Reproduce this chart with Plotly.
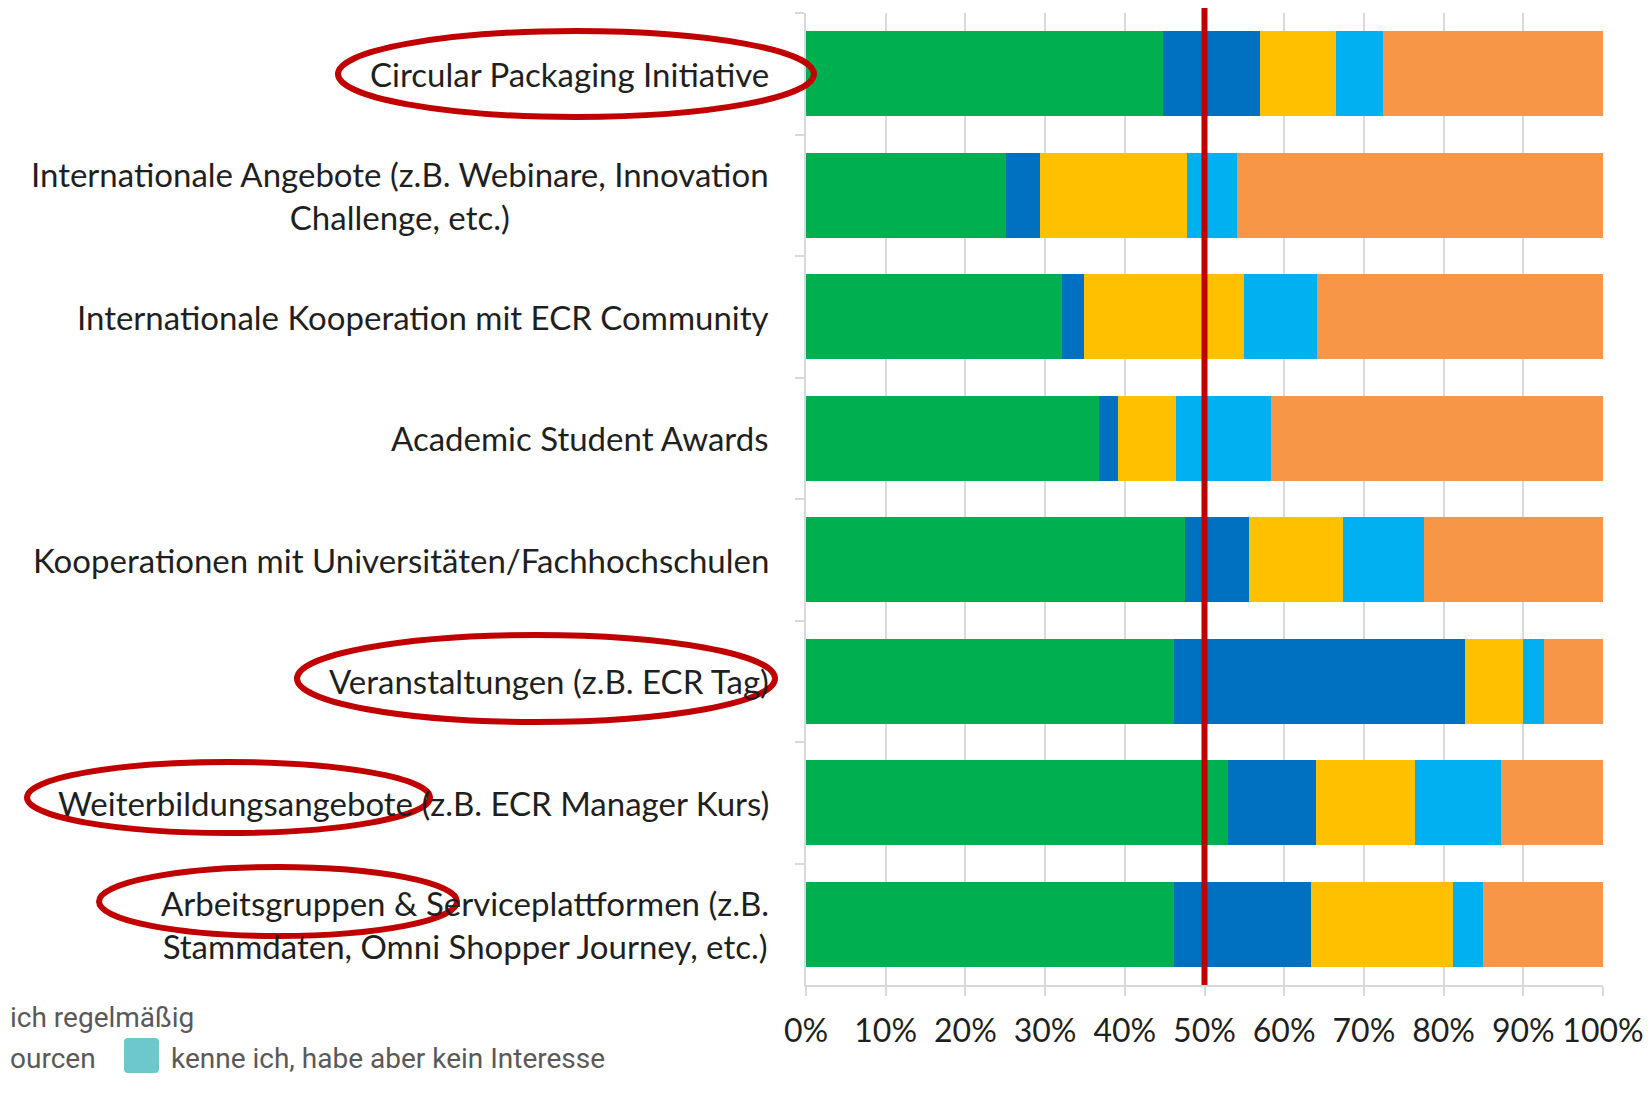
import plotly.graph_objects as go

# categories top to bottom
categories = [
    "Circular Packaging Initiative",
    "Internationale Angebote (z.B. Webinare, Innovation<br>Challenge, etc.)",
    "Internationale Kooperation mit ECR Community",
    "Academic Student Awards",
    "Kooperationen mit Universitäten/Fachhochschulen",
    "Veranstaltungen (z.B. ECR Tag)",
    "Weiterbildungsangebote (z.B. ECR Manager Kurs)",
    "Arbeitsgruppen & Serviceplattformen (z.B.<br>Stammdaten, Omni Shopper Journey, etc.)",
]

# shares per answer group (fraction of respondents)
green = [0.448, 0.251, 0.321, 0.368, 0.476, 0.462, 0.530, 0.462]
darkblue = [0.122, 0.042, 0.028, 0.024, 0.080, 0.365, 0.110, 0.171]
yellow = [0.095, 0.185, 0.201, 0.072, 0.118, 0.073, 0.124, 0.179]
lightblue = [0.059, 0.063, 0.091, 0.120, 0.101, 0.026, 0.108, 0.038]
orange = [0.276, 0.459, 0.359, 0.416, 0.225, 0.074, 0.128, 0.150]

series = [green, darkblue, yellow, lightblue, orange]
series_colors = ["#00B050", "#0070C0", "#FFC000", "#00B0F0", "#F79646"]

x_ticks = [i / 10 for i in range(11)]
x_ticktext = [f"{i * 10}%" for i in range(11)]

legend_lines = ["ich regelmäßig", "ourcen"]
legend_item = "kenne ich, habe aber kein Interesse"

MARKER_LINE = 0.5  # reference line at 50 %

# page sits at an 8px body margin, so work in page pixels and shift
OFF = 8
W, H = 1651 - OFF, 1117 - OFF
PX0, PX1, PY0, PY1 = 806, 1603, 13, 985  # plot area in page pixels


def px(x):
    return (x - PX0) / (PX1 - PX0)


def py(y):
    return (PY1 - y) / (PY1 - PY0)


fig = go.Figure()
for i, (vals, col) in enumerate(zip(series, series_colors)):
    fig.add_trace(go.Bar(
        y=categories, x=vals, orientation="h",
        name=f"Serie {i + 1}", marker=dict(color=col, line=dict(width=0)),
        showlegend=False,
    ))

# category labels (centred multi-line like Excel)
for cat in categories:
    fig.add_annotation(
        x=0, xref="paper", y=cat, yref="y", xshift=-35,
        xanchor="right", align="center", showarrow=False,
        text=cat, font=dict(family="Lato", size=33, color="#1f1f1f"),
    )

# 50 % marker
fig.add_shape(type="line", xref="x", yref="paper",
              x0=MARKER_LINE, x1=MARKER_LINE, y0=0, y1=py(5),
              line=dict(color="#C00000", width=6))

# hand-drawn highlight ellipses
ellipses = [(338, 31, 814, 117), (297, 635, 775, 722),
            (27, 762, 430, 833), (99, 867, 457, 936)]
for x0, y0, x1, y1 in ellipses:
    fig.add_shape(type="circle", xref="paper", yref="paper",
                  x0=px(x0), x1=px(x1), y0=py(y1), y1=py(y0),
                  line=dict(color="#C00000", width=6), layer="above")

# legend fragment (cropped in the source image)
LEG_FONT = dict(family="Roboto", size=28, color="#595959")
fig.add_annotation(x=px(OFF), y=py(1017), xref="paper", yref="paper",
                   xanchor="left", yanchor="middle", showarrow=False,
                   text=legend_lines[0], font=LEG_FONT)
fig.add_annotation(x=px(OFF), y=py(1058), xref="paper", yref="paper",
                   xanchor="left", yanchor="middle", showarrow=False,
                   text=legend_lines[1], font=LEG_FONT)
r = 4
sx0, sx1, sy0, sy1 = 124, 159, 1038, 1073
square = (
    f"M {px(sx0 + r)},{py(sy0)} L {px(sx1 - r)},{py(sy0)} "
    f"Q {px(sx1)},{py(sy0)} {px(sx1)},{py(sy0 + r)} "
    f"L {px(sx1)},{py(sy1 - r)} Q {px(sx1)},{py(sy1)} {px(sx1 - r)},{py(sy1)} "
    f"L {px(sx0 + r)},{py(sy1)} Q {px(sx0)},{py(sy1)} {px(sx0)},{py(sy1 - r)} "
    f"L {px(sx0)},{py(sy0 + r)} Q {px(sx0)},{py(sy0)} {px(sx0 + r)},{py(sy0)} Z"
)
fig.add_shape(type="path", xref="paper", yref="paper", path=square,
              fillcolor="#6CC8CC", line=dict(width=0))
fig.add_annotation(x=px(169), y=py(1058), xref="paper", yref="paper",
                   xanchor="left", yanchor="middle", showarrow=False,
                   text=legend_item, font=LEG_FONT)

fig.update_layout(
    width=W, height=H,
    barmode="stack", bargap=0.3,
    paper_bgcolor="white", plot_bgcolor="white",
    margin=dict(l=PX0 - OFF, r=W - (PX1 - OFF), t=PY0 - OFF, b=H - (PY1 - OFF)),
    font=dict(family="Lato", color="#262626"),
    xaxis=dict(
        range=[0, 1], tickvals=x_ticks, ticktext=x_ticktext,
        showgrid=True, gridcolor="#D9D9D9", gridwidth=2, zeroline=False,
        showline=True, linecolor="#D9D9D9", linewidth=2,
        ticks="outside", ticklen=9, tickcolor="#D9D9D9", tickwidth=2,
        tickfont=dict(family="Lato", size=32, color="#1f1f1f"),
        ticklabelstandoff=8,
    ),
    yaxis=dict(
        categoryorder="array", categoryarray=categories, autorange="reversed",
        showticklabels=False, showgrid=False, zeroline=False,
        showline=True, linecolor="#D9D9D9", linewidth=2,
        ticks="outside", ticklen=9, tickcolor="#D9D9D9", tickwidth=2,
        tickson="boundaries",
    ),
)

fig.write_html("out.html")
